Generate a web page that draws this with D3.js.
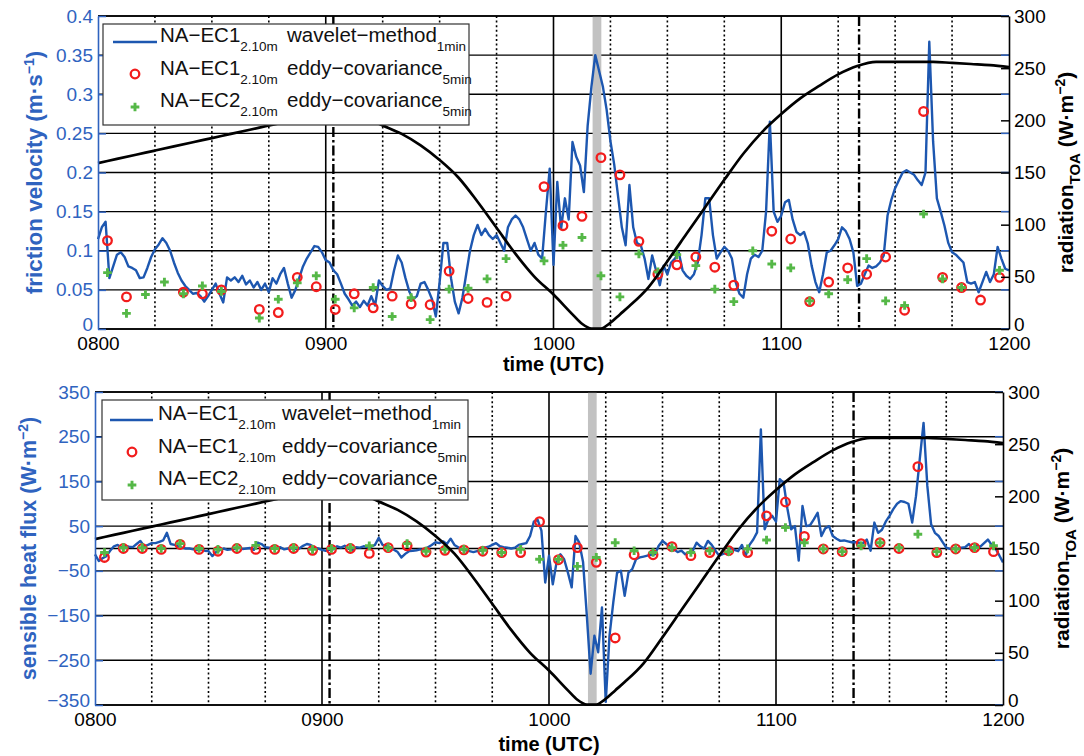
<!DOCTYPE html>
<html>
<head>
<meta charset="utf-8">
<script src="https://cdn.jsdelivr.net/npm/d3@7"></script>
<style>
  body { margin: 0; background: #fff; }
  text { font-family: "Liberation Sans", Arial, Helvetica, sans-serif; }
</style>
</head>
<body>
<svg id="chart" width="1084" height="756"></svg>
<script>
// ---- data (time = minutes after 0800 UTC) ----
const minutes = d3.range(0, 241);            // 1-min wavelet stamps
const ecTimes = d3.range(2.5, 240, 5);       // 5-min eddy-covariance stamps

const ustarWavelet = [
  0.115,0.13,0.137,0.065,0.08,0.095,0.098,0.092,0.08,0.078,
  0.075,0.065,0.066,0.078,0.092,0.102,0.108,0.116,0.11,0.1,
  0.085,0.072,0.062,0.055,0.05,0.045,0.046,0.042,0.035,0.042,
  0.05,0.058,0.045,0.034,0.066,0.062,0.066,0.06,0.068,0.057,
  0.062,0.053,0.06,0.05,0.058,0.047,0.065,0.058,0.07,0.078,
  0.058,0.04,0.05,0.065,0.08,0.09,0.098,0.106,0.105,0.098,
  0.088,0.085,0.075,0.07,0.058,0.045,0.038,0.03,0.035,0.028,
  0.036,0.03,0.042,0.03,0.062,0.055,0.05,0.052,0.075,0.094,
  0.085,0.065,0.048,0.038,0.042,0.058,0.06,0.05,0.038,0.016,
  0.06,0.11,0.11,0.065,0.035,0.02,0.04,0.07,0.1,0.12,
  0.133,0.12,0.128,0.12,0.115,0.12,0.11,0.1,0.13,0.14,
  0.145,0.14,0.13,0.115,0.1,0.11,0.095,0.09,0.15,0.205,
  0.082,0.188,0.128,0.167,0.14,0.239,0.22,0.209,0.175,0.26,
  0.31,0.35,0.33,0.31,0.28,0.24,0.21,0.17,0.13,0.107,
  0.184,0.13,0.11,0.107,0.09,0.064,0.094,0.075,0.056,0.081,
  0.07,0.085,0.09,0.098,0.075,0.068,0.064,0.07,0.085,0.12,
  0.167,0.167,0.12,0.09,0.098,0.105,0.1,0.09,0.06,0.045,
  0.04,0.07,0.09,0.095,0.092,0.1,0.15,0.265,0.15,0.137,
  0.145,0.162,0.165,0.14,0.124,0.12,0.124,0.109,0.081,0.06,
  0.047,0.07,0.098,0.1,0.107,0.115,0.13,0.125,0.115,0.098,
  0.055,0.058,0.07,0.081,0.078,0.08,0.085,0.094,0.145,0.165,
  0.18,0.19,0.2,0.203,0.2,0.197,0.19,0.184,0.2,0.367,
  0.24,0.167,0.15,0.132,0.11,0.098,0.095,0.09,0.085,0.06,
  0.058,0.06,0.047,0.06,0.073,0.06,0.07,0.105,0.09,0.077,
  0.075
];
const ustarEC1 = [0.113,0.041,null,null,0.047,0.045,0.05,null,0.025,0.021,
  0.066,0.054,0.025,0.045,0.027,0.042,0.032,0.031,0.074,0.039,
  0.034,0.042,null,0.182,0.132,0.144,0.219,0.197,0.112,0.07,
  0.082,0.092,0.079,0.056,null,0.125,0.115,0.035,0.06,0.078,
  0.07,0.092,0.024,0.278,0.066,0.053,0.037,0.066];
const ustarEC2 = [0.072,0.02,0.044,0.06,0.045,0.055,0.048,null,0.014,0.038,
  0.059,0.068,0.038,0.027,0.053,0.016,0.04,0.012,0.051,0.052,
  0.064,0.09,null,0.087,0.107,0.117,0.068,0.041,0.096,0.073,
  0.095,0.081,0.051,0.035,0.1,0.083,0.078,0.036,0.045,0.063,
  0.09,0.036,0.03,0.147,0.064,0.053,null,0.075];

const shfWavelet = [
  -13,-28,-22,-17,-5,5,8,2,6,4,
  3,10,17,5,8,12,12,15,18,35,
  10,8,5,2,0,0,-2,-3,-2,-5,
  -6,-17,-8,-4,0,-3,-2,0,2,-1,
  0,1,-3,13,10,3,2,0,1,3,
  -2,0,1,-1,0,6,10,8,2,0,
  -3,-5,-3,-2,5,2,6,0,-3,3,
  2,5,3,4,8,24,8,5,3,-3,
  -8,-20,-12,-6,-5,-4,-2,-3,3,8,
  14,12,16,10,22,8,3,-2,-4,-6,
  -8,-6,-5,2,4,8,12,5,3,2,
  0,2,8,10,12,28,60,64,40,-76,
  -16,-80,-31,-13,-24,-54,-87,28,13,-30,
  -150,-280,-195,-232,-132,-343,-195,-120,-54,-50,
  -106,-54,-46,-24,-20,-18,-16,-14,-13,6,
  17,10,4,-2,-8,-5,-13,-8,-5,13,
  5,0,17,8,-5,-16,-12,-10,2,-3,
  -6,8,-16,8,20,36,266,43,65,73,
  60,155,147,90,43,50,-27,95,50,52,
  65,80,28,45,50,28,22,17,18,16,
  14,14,13,12,20,-5,58,35,42,60,
  73,88,100,106,104,100,58,117,200,281,
  140,54,35,28,15,2,-1,0,-1,2,
  3,10,0,6,4,12,20,8,0,-15,
  -31
];
const shfEC1 = [-20,0,0,-2,9,-2,-6,0,-2,-2,
  0,-4,-2,0,-11,2,6,-8,-4,-3,
  -6,-9,-9,60,-25,2,-31,-200,-14,-14,
  4,-16,-9,-5,-9,73,104,27,-1,-7,
  11,13,0,183,-9,-1,2,-7];
const shfEC2 = [-9,2,2,0,11,0,-2,2,7,0,
  2,-2,0,2,6,2,11,-6,-2,-2,
  -4,-9,-2,-24,-24,-40,-20,13,-5,-9,
  2,-9,-5,-7,-1,19,47,13,-1,-7,
  6,13,2,32,-7,-1,2,6];

// top-of-atmosphere radiation (W m-2), denser sampling around totality
const radTimes = [0,5,10,15,20,25,30,35,40,45,50,55,60,65,70,75,80,85,90,95,
  100,105,110,115,120,125,127.5,130,132.5,135,137.5,140,145,150,155,160,165,170,
  175,180,185,190,195,200,205,210,215,220,225,230,235,240];
const radiationTOA = [159,163,167,171,175,179,183,187,191,195,199,203,207,208,203,195,187,176,162,145,
  122,97,72,50,33,14,5,0.5,0.5,6,14,22,40,
  65,91,117,143,168,
  189,206,221,233,244,252,256,256,256,256,255,254,253,251];

const hourTicks = [0, 60, 120, 180, 240];
const hourLabels = ["0800", "0900", "1000", "1100", "1200"];
const quarterLines = [15, 30, 45, 75, 90, 105, 135, 150, 165, 195, 210, 225];
const contactTimes = [62, 200.5];
const totalityBand = [130.3, 132.6];

const ustarTicks = [0, 0.05, 0.1, 0.15, 0.2, 0.25, 0.3, 0.35, 0.4];
const ustarTickLabels = ["0", "0.05", "0.1", "0.15", "0.2", "0.25", "0.3", "0.35", "0.4"];
const shfTicks = [-350, -250, -150, -50, 50, 150, 250, 350];
const shfTickLabels = ["\u2212350", "\u2212250", "\u2212150", "\u221250", "50", "150", "250", "350"];
const radTicks = [0, 50, 100, 150, 200, 250, 300];

const legendNames = ["NA\u2212EC1", "NA\u2212EC1", "NA\u2212EC2"];
const legendMethods = ["wavelet\u2212method", "eddy\u2212covariance", "eddy\u2212covariance"];
const legendSubs = ["1min", "5min", "5min"];

// ---- style ----
const BLUE_LINE = "#1d57b0", BLUE_TXT = "#2f63bf", RED = "#f21c1c", GREEN = "#55b847";

const svg = d3.select("#chart");

function drawPanel(p) {
  const x = d3.scaleLinear().domain([0, 240]).range([p.x0, p.x1]);
  const yL = d3.scaleLinear().domain(p.leftDomain).range([p.y1, p.y0]);
  const yR = d3.scaleLinear().domain([0, 300]).range([p.y1, p.y0]);
  const g = svg.append("g");

  // horizontal grid at left ticks
  g.selectAll("line.hgrid")
    .data(p.leftTicks.concat(p.zeroLine ? [0] : []))
    .join("line")
    .attr("x1", p.x0).attr("x2", p.x1)
    .attr("y1", d => yL(d)).attr("y2", d => yL(d))
    .attr("stroke", "#000").attr("stroke-width", 1.4);

  // totality band
  g.append("rect")
    .attr("x", x(totalityBand[0])).attr("y", p.y0)
    .attr("width", x(totalityBand[1]) - x(totalityBand[0]))
    .attr("height", p.y1 - p.y0)
    .attr("fill", "#c2c2c2");

  // vertical lines
  g.selectAll("line.hour")
    .data(hourTicks.slice(1, -1))
    .join("line")
    .attr("x1", d => x(d)).attr("x2", d => x(d))
    .attr("y1", p.y0).attr("y2", p.y1)
    .attr("stroke", "#000").attr("stroke-width", 1.6);
  g.selectAll("line.quarter")
    .data(quarterLines)
    .join("line")
    .attr("x1", d => x(d)).attr("x2", d => x(d))
    .attr("y1", p.y0).attr("y2", p.y1)
    .attr("stroke", "#000").attr("stroke-width", 1.6)
    .attr("stroke-dasharray", "2,2.6");
  g.selectAll("line.contact")
    .data(contactTimes)
    .join("line")
    .attr("x1", d => x(d)).attr("x2", d => x(d))
    .attr("y1", p.y0).attr("y2", p.y1)
    .attr("stroke", "#000").attr("stroke-width", 2.4)
    .attr("stroke-dasharray", "10,3,2.5,3");

  // wavelet line
  const wave = d3.line()
    .defined(d => d != null)
    .x((d, i) => x(minutes[i]))
    .y(d => yL(d));
  g.append("path")
    .datum(p.wave)
    .attr("d", wave)
    .attr("fill", "none")
    .attr("stroke", BLUE_LINE)
    .attr("stroke-width", 2.4)
    .attr("stroke-linejoin", "round");

  // eddy covariance markers
  g.selectAll("circle.ec1")
    .data(p.ec1.map((v, i) => [ecTimes[i], v]).filter(d => d[1] != null))
    .join("circle")
    .attr("cx", d => x(d[0])).attr("cy", d => yL(d[1]))
    .attr("r", 4.3)
    .attr("fill", "none").attr("stroke", RED).attr("stroke-width", 2.3);
  const cross = d3.symbol().type(d3.symbolCross).size(42);
  g.selectAll("path.ec2")
    .data(p.ec2.map((v, i) => [ecTimes[i], v]).filter(d => d[1] != null))
    .join("path")
    .attr("d", cross)
    .attr("transform", d => `translate(${x(d[0])},${yL(d[1])})`)
    .attr("fill", GREEN);

  // radiation curve
  const rad = d3.line()
    .x((d, i) => x(radTimes[i]))
    .y(d => yR(d))
    .curve(d3.curveMonotoneX);
  g.append("path")
    .datum(radiationTOA)
    .attr("d", rad)
    .attr("fill", "none")
    .attr("stroke", "#000")
    .attr("stroke-width", 2.7);

  // frame: top and bottom
  g.append("line").attr("x1", p.x0).attr("x2", p.x1).attr("y1", p.y0).attr("y2", p.y0)
    .attr("stroke", "#000").attr("stroke-width", 1.5);
  g.append("line").attr("x1", p.x0).attr("x2", p.x1).attr("y1", p.y1).attr("y2", p.y1)
    .attr("stroke", "#000").attr("stroke-width", 1.5);

  // left axis (blue)
  const ax = g.append("g")
    .attr("transform", `translate(${p.x0},0)`)
    .call(d3.axisLeft(yL).tickValues(p.leftTicks)
      .tickFormat((d, i) => p.leftLabels[i]).tickSize(-8).tickSizeOuter(0).tickPadding(5));
  ax.select(".domain").attr("stroke", BLUE_TXT).attr("stroke-width", 1.6);
  ax.selectAll(".tick line").attr("stroke", BLUE_TXT).attr("stroke-width", 1.5);
  ax.selectAll(".tick text").attr("fill", BLUE_TXT).style("font-size", "19px");
  // lowest label sits just above the corner time label
  ax.selectAll(".tick text").filter(d => d === p.leftTicks[0]).attr("dy", "0.1em");

  // blue left-axis ticks mirrored on the right side
  g.selectAll("line.rtick")
    .data(p.leftTicks)
    .join("line")
    .attr("x1", p.x1 - 8).attr("x2", p.x1)
    .attr("y1", d => yL(d)).attr("y2", d => yL(d))
    .attr("stroke", BLUE_TXT).attr("stroke-width", 1.5);

  // right axis (radiation)
  const ar = g.append("g")
    .attr("transform", `translate(${p.x1},0)`)
    .call(d3.axisRight(yR).tickValues(radTicks).tickSize(-8).tickSizeOuter(0).tickPadding(5));
  ar.select(".domain").attr("stroke", "#000").attr("stroke-width", 1.6);
  ar.selectAll(".tick line").attr("stroke", "#000").attr("stroke-width", 1.5);
  ar.selectAll(".tick text").attr("fill", "#000").style("font-size", "19px");
  ar.selectAll(".tick text").filter(d => d === radTicks[0]).attr("dy", "0.1em");

  // bottom axis labels
  const ab = g.append("g")
    .attr("transform", `translate(0,${p.y1})`)
    .call(d3.axisBottom(x).tickValues(hourTicks)
      .tickFormat((d, i) => hourLabels[i]).tickSize(0).tickPadding(8));
  ab.select(".domain").remove();
  ab.selectAll(".tick text").attr("fill", "#000").style("font-size", "19px");

  // axis titles
  g.append("text")
    .attr("x", (p.x0 + p.x1) / 2).attr("y", p.xLabelY)
    .attr("text-anchor", "middle")
    .style("font-size", "20px").style("font-weight", "bold")
    .text("time (UTC)");

  const lt = g.append("text")
    .attr("transform", `translate(${p.leftLabelX},${(p.y0 + p.y1) / 2}) rotate(-90)`)
    .attr("text-anchor", "middle")
    .attr("fill", BLUE_TXT)
    .style("font-size", p.leftTitleSize).style("font-weight", "bold");
  lt.append("tspan").text(p.leftTitle);
  lt.append("tspan").attr("dy", -8).style("font-size", "14px").text(p.leftSup);
  lt.append("tspan").attr("dy", 8).text(")");

  const rt = g.append("text")
    .attr("transform", `translate(${p.rightLabelX},${(p.y0 + p.y1) / 2}) rotate(-90)`)
    .attr("text-anchor", "middle")
    .attr("fill", "#000")
    .style("font-size", "21px").style("font-weight", "bold");
  rt.append("tspan").text("radiation");
  rt.append("tspan").attr("dy", 7).style("font-size", "15px").text("TOA");
  rt.append("tspan").attr("dy", -7).text(" (W\u00b7m");
  rt.append("tspan").attr("dy", -8).style("font-size", "14px").text("\u22122");
  rt.append("tspan").attr("dy", 8).text(")");

  // legend
  const L = p.legend;
  const lg = g.append("g");
  lg.append("rect")
    .attr("x", L.x).attr("y", L.y).attr("width", L.w).attr("height", L.h)
    .attr("fill", "#fff").attr("stroke", "#333").attr("stroke-width", 1.2);
  legendNames.forEach((name, i) => {
    const y = L.rows[i];
    if (i === 0) {
      lg.append("line").attr("x1", L.lineX[0]).attr("x2", L.lineX[1])
        .attr("y1", y).attr("y2", y)
        .attr("stroke", BLUE_LINE).attr("stroke-width", 2.4);
    } else if (i === 1) {
      lg.append("circle").attr("cx", L.markerX).attr("cy", y - 1).attr("r", 4.3)
        .attr("fill", "none").attr("stroke", RED).attr("stroke-width", 2.3);
    } else {
      lg.append("path").attr("d", cross)
        .attr("transform", `translate(${L.markerX},${y})`).attr("fill", GREEN);
    }
    const t = lg.append("text").attr("x", L.textX).attr("y", y).style("font-size", "20.5px").attr("fill", "#111");
    t.append("tspan").text(name);
    t.append("tspan").attr("dy", 9).style("font-size", "13.5px").text("2.10m");
    t.append("tspan").attr("x", L.secondX).attr("dy", -9).text(legendMethods[i]);
    t.append("tspan").attr("dy", 9).style("font-size", "13.5px").text(legendSubs[i]);
  });
}

drawPanel({
  x0: 98, x1: 1009, y0: 16, y1: 329,
  leftDomain: [0, 0.4], leftTicks: ustarTicks, leftLabels: ustarTickLabels,
  wave: ustarWavelet, ec1: ustarEC1, ec2: ustarEC2,
  leftTitle: "friction velocity (m\u00b7s", leftSup: "\u22121", leftTitleSize: "22.5px",
  leftLabelX: 42, rightLabelX: 1073, xLabelY: 371,
  legend: { x: 103, y: 24, w: 366, h: 101, rows: [42, 75, 107],
            textX: 160, secondX: 287, markerX: 135, lineX: [113, 157] }
});

drawPanel({
  x0: 95, x1: 1003, y0: 392, y1: 705,
  leftDomain: [-350, 350], leftTicks: shfTicks, leftLabels: shfTickLabels,
  wave: shfWavelet, ec1: shfEC1, ec2: shfEC2, zeroLine: true,
  leftTitle: "sensible heat flux (W\u00b7m", leftSup: "\u22122", leftTitleSize: "21.5px",
  leftLabelX: 36, rightLabelX: 1069, xLabelY: 751,
  legend: { x: 102, y: 400, w: 366, h: 100, rows: [420, 453, 485],
            textX: 158, secondX: 282, markerX: 132, lineX: [110, 153] }
});
</script>
</body>
</html>
